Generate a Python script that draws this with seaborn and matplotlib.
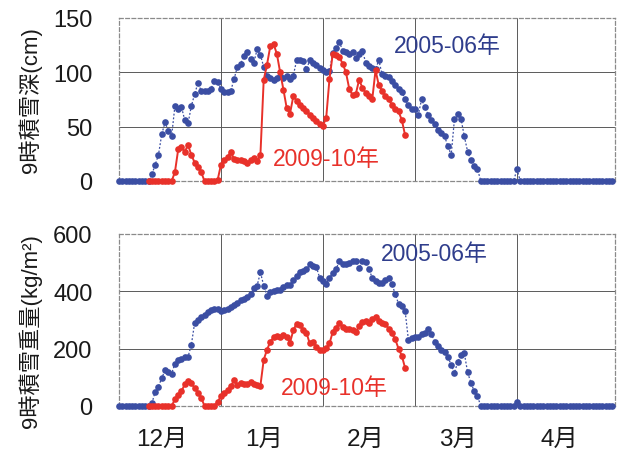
import numpy as np
import pandas as pd
import matplotlib
matplotlib.use("Agg")
import matplotlib.pyplot as plt
import seaborn as sns

# ---------------- data (daily values, day 0 = Dec 1) ----------------
month_labels = ["12月", "1月", "2月", "3月", "4月"]
month_start_days = [0, 31, 62, 90, 121]
season_end_day = 151

series_labels = ["2005-06年", "2009-10年"]

# 2005-06 season, snow depth at 9:00 (cm), Dec 1 .. Apr 30
depth_0506 = [0, 0, 0, 0, 0, 0, 0, 0, 0, 0,
              6, 15, 24, 43, 54, 46, 41, 69, 66, 68,
              56, 53, 69, 80, 90, 83, 83, 83, 85, 92,
              91, 85, 82, 82, 83, 94, 105, 108, 115, 119,
              112, 109, 121, 116, 105, 97, 95, 93, 95, 97,
              95, 97, 94, 97, 111, 111, 110, 103, 111, 109,
              107, 104, 102, 100, 101, 118, 122, 128, 120, 119,
              117, 119, 113, 117, 120, 109, 106, 104, 103, 111,
              98, 97, 96, 92, 88, 85, 82, 75, 70, 66,
              66, 61, 75, 68, 61, 56, 52, 47, 44, 41,
              32, 24, 57, 62, 57, 41, 27, 19, 14, 11,
              0, 0, 0, 0, 0, 0, 0, 0, 0, 0,
              0, 11, 0, 0, 0, 0, 0, 0, 0, 0,
              0, 0, 0, 0, 0, 0, 0, 0, 0, 0,
              0, 0, 0, 0, 0, 0, 0, 0, 0, 0, 0]

# 2005-06 season, snow weight at 9:00 (kg/m2)
swe_0506 = [0, 0, 0, 0, 0, 0, 0, 0, 0, 0,
            9, 50, 67, 98, 124, 118, 113, 147, 161, 165,
            172, 172, 213, 290, 301, 310, 316, 328, 336, 339,
            339, 331, 335, 338, 345, 352, 359, 370, 374, 379,
            390, 410, 420, 466, 420, 385, 396, 400, 403, 405,
            415, 422, 422, 440, 454, 466, 472, 477, 494, 490,
            485, 448, 435, 425, 448, 465, 477, 506, 497, 497,
            500, 506, 506, 481, 506, 503, 477, 447, 435, 430,
            428, 440, 448, 425, 391, 356, 349, 331, 230, 236,
            240, 239, 250, 255, 267, 250, 224, 210, 196, 187,
            170, 144, 115, 155, 178, 184, 117, 81, 52, 34,
            0, 0, 0, 0, 0, 0, 0, 0, 0, 0,
            0, 15, 0, 0, 0, 0, 0, 0, 0, 0,
            0, 0, 0, 0, 0, 0, 0, 0, 0, 0,
            0, 0, 0, 0, 0, 0, 0, 0, 0, 0, 0]

# 2009-10 season, starts Dec 10 (day 9)
start_0910 = 9
depth_0910 = [0, 0, 0, 0, 0, 0, 0, 0,
              8, 29, 31, 27, 33, 24, 17, 13, 8, 0,
              0, 0, 0, 1, 15, 19, 22, 27, 20, 19,
              19, 18, 17, 19, 21, 18, 24, 93, 107, 124,
              126, 117, 100, 84, 67, 62, 78, 74, 70, 67,
              64, 61, 58, 55, 52, 51, 58, 94, 117, 116,
              114, 108, 100, 85, 79, 80, 93, 86, 81, 78,
              75, 102, 88, 83, 78, 75, 70, 66, 64, 56, 42]

swe_0910 = [0, 0, 0, 0, 0, 0, 0, 0,
            23, 40, 52, 75, 86, 79, 63, 46, 29, 0,
            0, 0, 0, 14, 34, 46, 55, 69, 90, 72,
            80, 75, 78, 82, 78, 72, 71, 161, 196, 224,
            239, 244, 240, 248, 240, 221, 264, 287, 282, 264,
            255, 218, 224, 207, 196, 196, 201, 218, 259, 273,
            290, 275, 270, 268, 265, 259, 278, 293, 297, 290,
            305, 310, 297, 290, 285, 270, 253, 232, 200, 175, 132]

df_0506 = pd.DataFrame({"day": np.arange(len(depth_0506)),
                        "depth": depth_0506, "swe": swe_0506})
df_0910 = pd.DataFrame({"day": np.arange(start_0910, start_0910 + len(depth_0910)),
                        "depth": depth_0910, "swe": swe_0910})

# ---------------- style ----------------
sns.set_theme(style="white")
plt.rcParams["font.family"] = ["Liberation Sans", "Noto Sans CJK JP"]

blue = "#3b4ea3"
blue_txt = "#2f3d8c"
red = "#e8312a"

fig = plt.figure(figsize=(6.22, 4.56), dpi=100)
ax_top = fig.add_axes([0.1913, 0.6009, 0.7974, 0.3575])
ax_bot = fig.add_axes([0.1913, 0.1075, 0.7974, 0.3772])

panels = [
    (ax_top, "depth", [0, 50, 100, 150], "9時積雪深(cm)", 0.5,
     [(0.662, 0.83), (0.417, 0.135)]),
    (ax_bot, "swe", [0, 200, 400, 600], "9時積雪重量(kg/m²)", 0.44,
     [(0.635, 0.884), (0.435, 0.11)]),
]

for ax, col, yt, ylab, ylab_y, txtpos in panels:
    sns.lineplot(data=df_0506, x="day", y=col, ax=ax, color=blue,
                 marker="o", markersize=4.8, markeredgewidth=0,
                 linewidth=0.9, linestyle=(0, (1.5, 1.5)), clip_on=False, zorder=3)
    sns.lineplot(data=df_0910, x="day", y=col, ax=ax, color=red,
                 marker="o", markersize=4.8, markeredgewidth=0,
                 linewidth=1.4, linestyle="-", clip_on=False, zorder=4)

    ax.set_xlim(0, season_end_day - 0.2)
    ax.set_ylim(yt[0], yt[-1])
    ax.set_yticks(yt)
    ax.set_yticklabels([str(v) for v in yt])
    for v in yt[1:-1]:
        ax.axhline(v, color="#5a5a5a", lw=0.7, zorder=1)
    for d in month_start_days[1:]:
        ax.axvline(d, color="#5a5a5a", lw=0.7, zorder=1)
    ax.grid(False)
    for sp in ax.spines.values():
        sp.set_linestyle((0, (3, 2)))
        sp.set_color("#8a8a8a")
        sp.set_linewidth(0.9)
    ax.tick_params(axis="y", length=0, pad=19, labelsize=17, labelcolor="#1a1a1a")
    ax.set_ylabel(ylab, fontsize=16, color="#1a1a1a")
    ax.yaxis.set_label_coords(-0.155, ylab_y)
    ax.set_xlabel("")

    ax.text(*txtpos[0], series_labels[0], transform=ax.transAxes,
            ha="center", va="center", fontsize=16.5, color=blue_txt)
    ax.text(*txtpos[1], series_labels[1], transform=ax.transAxes,
            ha="center", va="center", fontsize=16.5, color=red)

ax_top.set_xticks([d + 13 for d in month_start_days])
ax_top.set_xticklabels([])
ax_top.tick_params(axis="x", length=0)

ax_bot.set_xticks([d + 13 for d in month_start_days])
ax_bot.set_xticklabels(month_labels)
ax_bot.tick_params(axis="x", length=0, pad=16, labelsize=17.5, labelcolor="#1a1a1a")

fig.savefig("out.png", dpi=100)
